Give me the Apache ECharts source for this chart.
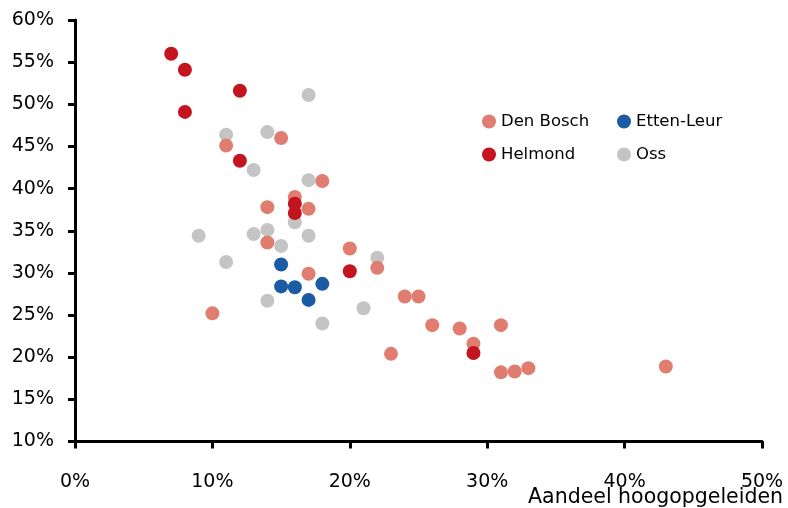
<!DOCTYPE html>
<html>
<head>
<meta charset="utf-8">
<script src="https://cdn.jsdelivr.net/npm/echarts@6/dist/echarts.min.js"></script>
<style>
  html, body { margin: 0; padding: 0; background: #fff; }
  #chart { width: 788px; height: 508px; }
</style>
</head>
<body>
<div id="chart"></div>
<script>
// [aandeel hoogopgeleiden %, y %]
var denBosch = [
  [15, 46.0], [11, 45.1], [18, 40.9], [16, 39.0], [14, 37.8], [17, 37.6],
  [14, 33.6], [20, 32.9], [22, 30.6], [17, 29.9], [10, 25.2], [24, 27.2],
  [25, 27.2], [26, 23.8], [28, 23.4], [31, 23.8], [23, 20.4], [29, 21.6],
  [31, 18.2], [32, 18.3], [33, 18.7], [43, 18.9]
];
var ettenLeur = [
  [15, 31.0], [15, 28.4], [16, 28.3], [18, 28.7], [17, 26.8]
];
var helmond = [
  [7, 56.0], [8, 54.1], [12, 51.6], [8, 49.1], [12, 43.3], [16, 38.2],
  [16, 37.1], [20, 30.2], [29, 20.5]
];
var oss = [
  [17, 51.1], [11, 46.4], [14, 46.7], [13, 42.2], [17, 41.0], [16, 36.0],
  [9, 34.4], [13, 34.6], [14, 35.1], [17, 34.4], [15, 33.2], [11, 31.3],
  [14, 26.7], [18, 24.0], [21, 25.8], [22, 31.8]
];

var colors = {
  'Den Bosch': '#e07c70',
  'Etten-Leur': '#1a5ba3',
  'Helmond': '#c3141f',
  'Oss': '#c4c4c4'
};

var fontFam = '"DejaVu Sans", sans-serif';

function mkSeries(name, data) {
  return {
    name: name,
    type: 'scatter',
    data: data,
    symbolSize: 14,
    itemStyle: { color: colors[name], opacity: 1 },
    emphasis: { disabled: true }
  };
}

var legendText = { fontSize: 16.5, color: '#000', fontFamily: fontFam };

var myChart = echarts.init(document.getElementById('chart'));
myChart.setOption({
  animation: false,
  textStyle: { fontFamily: fontFam },
  grid: { left: 75, right: 26, top: 20, bottom: 66.5, containLabel: false },
  title: {
    text: 'Aandeel hoogopgeleiden',
    right: 5,
    top: 487,
    padding: 0,
    textStyle: { fontSize: 20.5, fontWeight: 'normal', color: '#000', fontFamily: fontFam }
  },
  legend: [
    {
      data: ['Den Bosch', 'Helmond'],
      orient: 'vertical',
      left: 477,
      top: 108,
      itemWidth: 14,
      itemHeight: 14,
      itemGap: 16,
      icon: 'circle',
      textStyle: legendText
    },
    {
      data: ['Etten-Leur', 'Oss'],
      orient: 'vertical',
      left: 612,
      top: 108,
      itemWidth: 14,
      itemHeight: 14,
      itemGap: 16,
      icon: 'circle',
      textStyle: legendText
    }
  ],
  xAxis: {
    type: 'value',
    min: 0,
    max: 50,
    interval: 10,
    axisLine: { lineStyle: { color: '#000', width: 3 } },
    axisTick: { length: 7, lineStyle: { color: '#000', width: 3 } },
    axisLabel: { formatter: '{value}%', fontSize: 19, color: '#000', margin: 31 },
    splitLine: { show: false }
  },
  yAxis: {
    type: 'value',
    min: 10,
    max: 60,
    interval: 5,
    axisLine: { show: true, lineStyle: { color: '#000', width: 3 } },
    axisTick: { show: true, length: 7, lineStyle: { color: '#000', width: 3 } },
    axisLabel: { formatter: '{value}%', fontSize: 19, color: '#000', margin: 21 },
    splitLine: { show: false }
  },
  series: [
    mkSeries('Oss', oss),
    mkSeries('Den Bosch', denBosch),
    mkSeries('Etten-Leur', ettenLeur),
    mkSeries('Helmond', helmond)
  ]
});
window.onresize = function () { myChart.resize(); };
</script>
</body>
</html>
